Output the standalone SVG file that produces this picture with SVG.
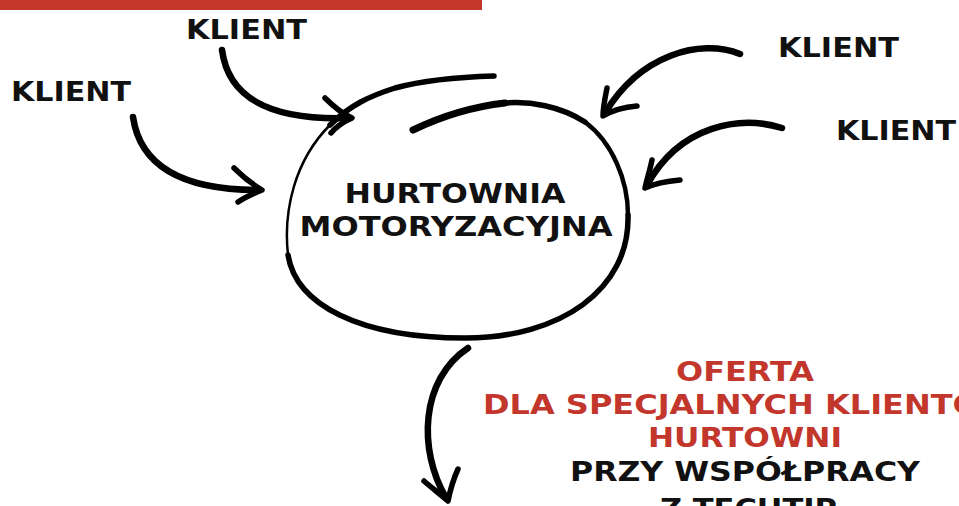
<svg xmlns="http://www.w3.org/2000/svg" width="959" height="506" viewBox="0 0 959 506">
<style>
.t{font-family:"DejaVu Sans","Liberation Sans",sans-serif;font-weight:700;font-size:27px;fill:#111;}
.r{fill:#c2362c;}
.s{fill:none;stroke:#000;stroke-linecap:round;stroke-linejoin:round;}
</style>
<rect x="0" y="0" width="482" height="10" fill="#c2362c"/>
<g id="node-hurtownia">
<path class="s" stroke-width="7" d="M413,130 C440,117 470,107 505,103"/>
<path class="s" stroke-width="5.5" d="M505,103 C530,101 560,106 585,122"/>
<path class="s" stroke-width="4.5" d="M585,122 C612,142 628,180 628,215"/>
<path class="s" stroke-width="5.5" d="M628,215 C630,290 560,338 465,338 C360,338 296,305 288,255"/>
<path class="s" stroke-width="2.5" d="M288,255 C283,210 295,160 330,125"/>
<path class="s" stroke-width="5.5" d="M330,125 C350,105 370,96 395,88 C425,80 460,77 494,76"/>
<text class="t" x="455" y="203" text-anchor="middle" textLength="221" lengthAdjust="spacingAndGlyphs">HURTOWNIA</text>
<text class="t" x="456" y="236" text-anchor="middle" textLength="313" lengthAdjust="spacingAndGlyphs">MOTORYZACYJNA</text>
</g>
<g id="node-klient-1"><text class="t" x="186" y="39" textLength="121" lengthAdjust="spacingAndGlyphs">KLIENT</text></g>
<g id="node-klient-2"><text class="t" x="11" y="101" textLength="120" lengthAdjust="spacingAndGlyphs">KLIENT</text></g>
<g id="node-klient-3"><text class="t" x="778" y="57" textLength="121" lengthAdjust="spacingAndGlyphs">KLIENT</text></g>
<g id="node-klient-4"><text class="t" x="836" y="140" textLength="120" lengthAdjust="spacingAndGlyphs">KLIENT</text></g>
<g id="node-oferta">
<text class="t r" x="676" y="381" textLength="138" lengthAdjust="spacingAndGlyphs">OFERTA</text>
<text class="t r" x="483" y="414" textLength="532" lengthAdjust="spacingAndGlyphs">DLA SPECJALNYCH KLIENTÓW</text>
<text class="t r" x="648" y="447" textLength="194" lengthAdjust="spacingAndGlyphs">HURTOWNI</text>
<text class="t" x="570" y="481" textLength="350" lengthAdjust="spacingAndGlyphs">PRZY WSPÓŁPRACY</text>
<text class="t" x="660" y="518" textLength="177" lengthAdjust="spacingAndGlyphs">Z TECHTIP</text>
</g>
<g id="connectors">
<path class="s" stroke-width="6.5" d="M222,50 C228,95 265,121 350,118"/>
<path class="s" stroke-width="5.5" d="M325,98 C335,108 343,114 352,118 C343,122 336,127 331,133"/>
<path class="s" stroke-width="6.5" d="M133,117 C140,165 180,190 258,190"/>
<path class="s" stroke-width="5.5" d="M234,168 C244,178 252,184 262,190 C252,194 244,198 238,202"/>
<path class="s" stroke-width="6.5" d="M740,54 C700,38 640,55 605,113"/>
<path class="s" stroke-width="5.5" d="M607,88 C605,98 603,107 603,116 C613,110 625,107 637,106"/>
<path class="s" stroke-width="6.5" d="M782,128 C740,115 680,125 647,185"/>
<path class="s" stroke-width="5.5" d="M652,160 C650,170 647,179 645,188 C656,183 668,181 680,180"/>
<path class="s" stroke-width="6.5" d="M468,348 C420,380 418,450 446,498"/>
<path class="s" stroke-width="5.5" d="M424,481 C432,488 440,494 448,501 C450,491 453,480 458,469"/>
</g>
</svg>
